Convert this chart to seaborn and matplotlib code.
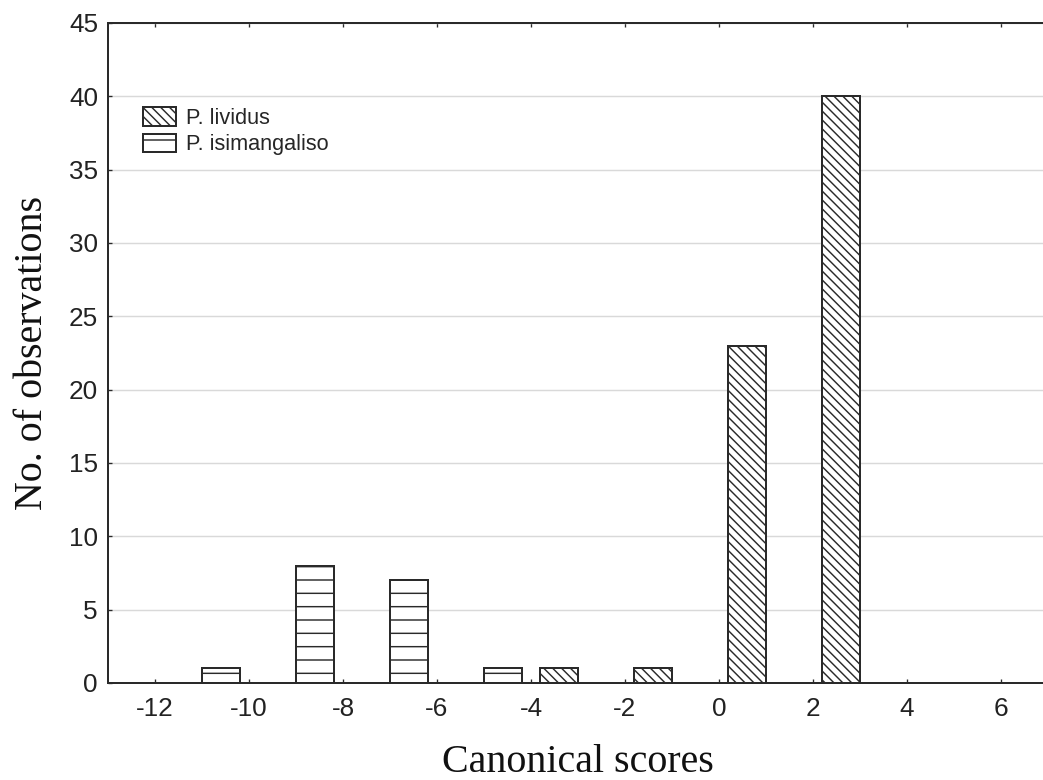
import pandas as pd
import seaborn as sns
import matplotlib.pyplot as plt
from matplotlib.patches import Patch

# histogram of canonical scores, bins of width 2 centred on even values
bin_centres = [-10, -8, -6, -4, -2, 0, 2]
isimangaliso = [1, 8, 7, 1, 0, 0, 0]
lividus = [0, 0, 0, 1, 1, 23, 40]
species = ['P. isimangaliso', 'P. lividus']
x_ticks = [-12, -10, -8, -6, -4, -2, 0, 2, 4, 6]
y_ticks = [0, 5, 10, 15, 20, 25, 30, 35, 40, 45]

df = pd.DataFrame({
    'score': bin_centres * 2,
    'count': isimangaliso + lividus,
    'species': [species[0]] * len(bin_centres) + [species[1]] * len(bin_centres),
})
df = df[df['count'] > 0]

sns.set_style('white')
plt.rcParams['hatch.color'] = '#4a4a4a'
plt.rcParams['hatch.linewidth'] = 1.3

DPI = 80
fig = plt.figure(figsize=(1043 / DPI, 780 / DPI), dpi=DPI)
ax = fig.add_axes([108 / 1043, 97 / 780, 940 / 1043, 660 / 780])

sns.barplot(data=df, x='score', y='count', hue='species', hue_order=species,
            native_scale=True, width=1.2, gap=1 - 0.8 / 1.2, dodge=True,
            palette=['white', 'white'], edgecolor='#2a2a2a', linewidth=1.8,
            legend=False, ax=ax, zorder=3)

hatches = {species[0]: '-', species[1]: '\\\\\\'}
for cont, sp in zip(ax.containers, species):
    for bar in cont:
        bar.set_hatch(hatches[sp])

ax.set_xlim(-13, 7)
ax.set_ylim(0, 45)
ax.set_xticks(x_ticks)
ax.set_yticks(y_ticks)
ax.set_xticklabels([str(t) for t in x_ticks], family='Liberation Sans', fontsize=23.5)
ax.set_yticklabels([str(t) for t in y_ticks], family='Liberation Sans', fontsize=23.5)
ax.tick_params(axis='x', direction='in', top=True, bottom=True, length=4, width=1.2,
               color='#2a2a2a', colors='#222222', pad=13)
ax.tick_params(axis='y', direction='in', left=True, length=4, width=1.2,
               color='#2a2a2a', colors='#222222', pad=9)
ax.yaxis.grid(True, color='#d9d9d9', linewidth=1.3, zorder=0)
ax.set_axisbelow(True)

for side in ['left', 'bottom', 'top']:
    ax.spines[side].set_color('#2a2a2a')
    ax.spines[side].set_linewidth(1.8)
ax.spines['right'].set_visible(False)

ax.set_xlabel('Canonical scores', family='Liberation Serif', fontsize=36, color='#111111', labelpad=20)
ax.set_ylabel('No. of observations', family='Liberation Serif', fontsize=36, color='#111111', labelpad=16)

handles = [Patch(facecolor='white', edgecolor='#2a2a2a', linewidth=1.8, hatch=hatches[species[1]]),
           Patch(facecolor='white', edgecolor='#2a2a2a', linewidth=1.8, hatch=hatches[species[0]])]
ax.legend(handles, [species[1], species[0]], loc='upper left', bbox_to_anchor=(0.037, 0.872),
          frameon=False, borderpad=0, borderaxespad=0, handlelength=1.55, handleheight=0.95,
          handletextpad=0.45, labelspacing=0.2,
          prop={'family': 'Liberation Sans', 'size': 19.5})

fig.savefig('out.png', dpi=DPI)
